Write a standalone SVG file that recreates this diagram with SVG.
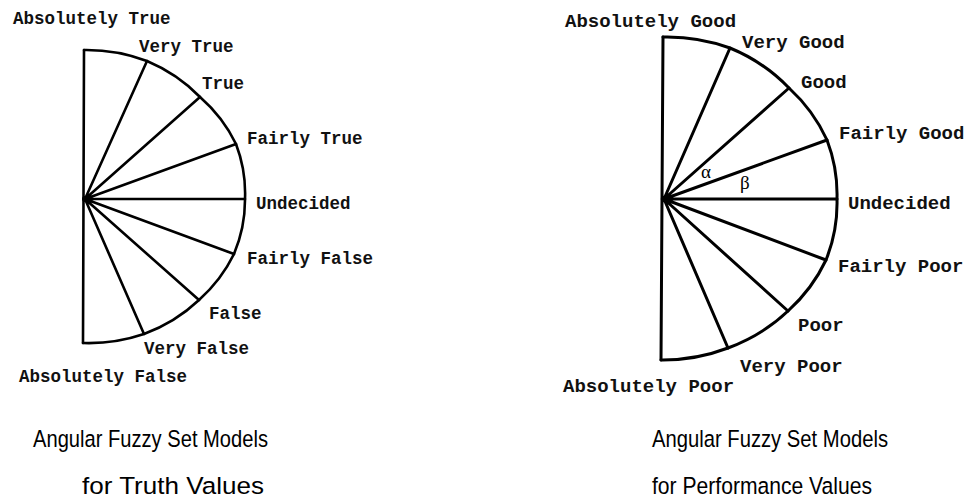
<svg xmlns="http://www.w3.org/2000/svg" width="976" height="502" viewBox="0 0 976 502">
<style>
.bg{fill:#fff}
.ln{fill:none;stroke:#000;stroke-linecap:round;stroke-linejoin:round}
.l1{stroke-width:2.6}
.l2{stroke-width:3}
.lab{font-family:"Liberation Mono","Courier New",monospace;font-weight:bold;fill:#111}
.s1{font-size:17.5px}
.s2{font-size:19px}
.greek{font-family:"Liberation Serif","DejaVu Serif",serif;font-size:19px;fill:#000}
.cap{font-family:"Liberation Sans",Arial,sans-serif;font-size:24.5px;fill:#000}
</style>
<rect class="bg" x="0" y="0" width="976" height="502"/>

<g id="truth-model">
  <g id="truth-connectors" class="ln l1">
    <path d="M84,50 L83,343"/>
    <path d="M85,199 L147,61 M85,199 L200,97 M85,199 L236,144 M85,199 L245,199 M85,199 L234,254 M85,199 L199,300 M85,199 L144,334"/>
    <path d="M84,50 A160,148 0 0 1 147,61 A160,148 0 0 1 200,97 A160,148 0 0 1 236,144 A160,148 0 0 1 245,199 A160,148 0 0 1 234,254 A160,148 0 0 1 199,300 A160,148 0 0 1 144,334 A160,148 0 0 1 83,343"/>
  </g>
  <circle cx="85" cy="199" r="3" fill="#000"/>
  <g id="truth-labels" class="lab s1">
    <text x="13" y="24">Absolutely True</text>
    <text x="139" y="52">Very True</text>
    <text x="202" y="89">True</text>
    <text x="247" y="144">Fairly True</text>
    <text x="256" y="209">Undecided</text>
    <text x="247" y="264">Fairly False</text>
    <text x="209" y="319">False</text>
    <text x="144" y="354">Very False</text>
    <text x="19" y="382">Absolutely False</text>
  </g>
  <g id="truth-caption" class="cap">
    <text x="33" y="447" textLength="235" lengthAdjust="spacingAndGlyphs">Angular Fuzzy Set Models</text>
    <text x="82" y="494" textLength="182" lengthAdjust="spacingAndGlyphs">for Truth Values</text>
  </g>
</g>

<g id="performance-model">
  <g id="performance-connectors" class="ln l2">
    <path d="M663,37 L661,360"/>
    <path d="M664,199 L730,48 M664,199 L789,88 M664,199 L827,140 M664,199 L837,199 M664,199 L826,260 M664,199 L788,311 M664,199 L728,348"/>
    <path d="M663,37 A173,162 0 0 1 730,48 A173,162 0 0 1 789,88 A173,162 0 0 1 827,140 A173,162 0 0 1 837,199 A173,162 0 0 1 826,260 A173,162 0 0 1 788,311 A173,162 0 0 1 728,348 A173,162 0 0 1 661,360"/>
  </g>
  <circle cx="664" cy="199" r="3.2" fill="#000"/>
  <text class="greek" x="701" y="178">α</text>
  <text class="greek" x="740" y="189">β</text>
  <g id="performance-labels" class="lab s2">
    <text x="565" y="27">Absolutely Good</text>
    <text x="742" y="48">Very Good</text>
    <text x="801" y="88">Good</text>
    <text x="839" y="139">Fairly Good</text>
    <text x="848" y="209">Undecided</text>
    <text x="838" y="272">Fairly Poor</text>
    <text x="798" y="331">Poor</text>
    <text x="740" y="372">Very Poor</text>
    <text x="563" y="392">Absolutely Poor</text>
  </g>
  <g id="performance-caption" class="cap">
    <text x="652" y="447" textLength="236" lengthAdjust="spacingAndGlyphs">Angular Fuzzy Set Models</text>
    <text x="652" y="494" textLength="220" lengthAdjust="spacingAndGlyphs">for Performance Values</text>
  </g>
</g>
</svg>
